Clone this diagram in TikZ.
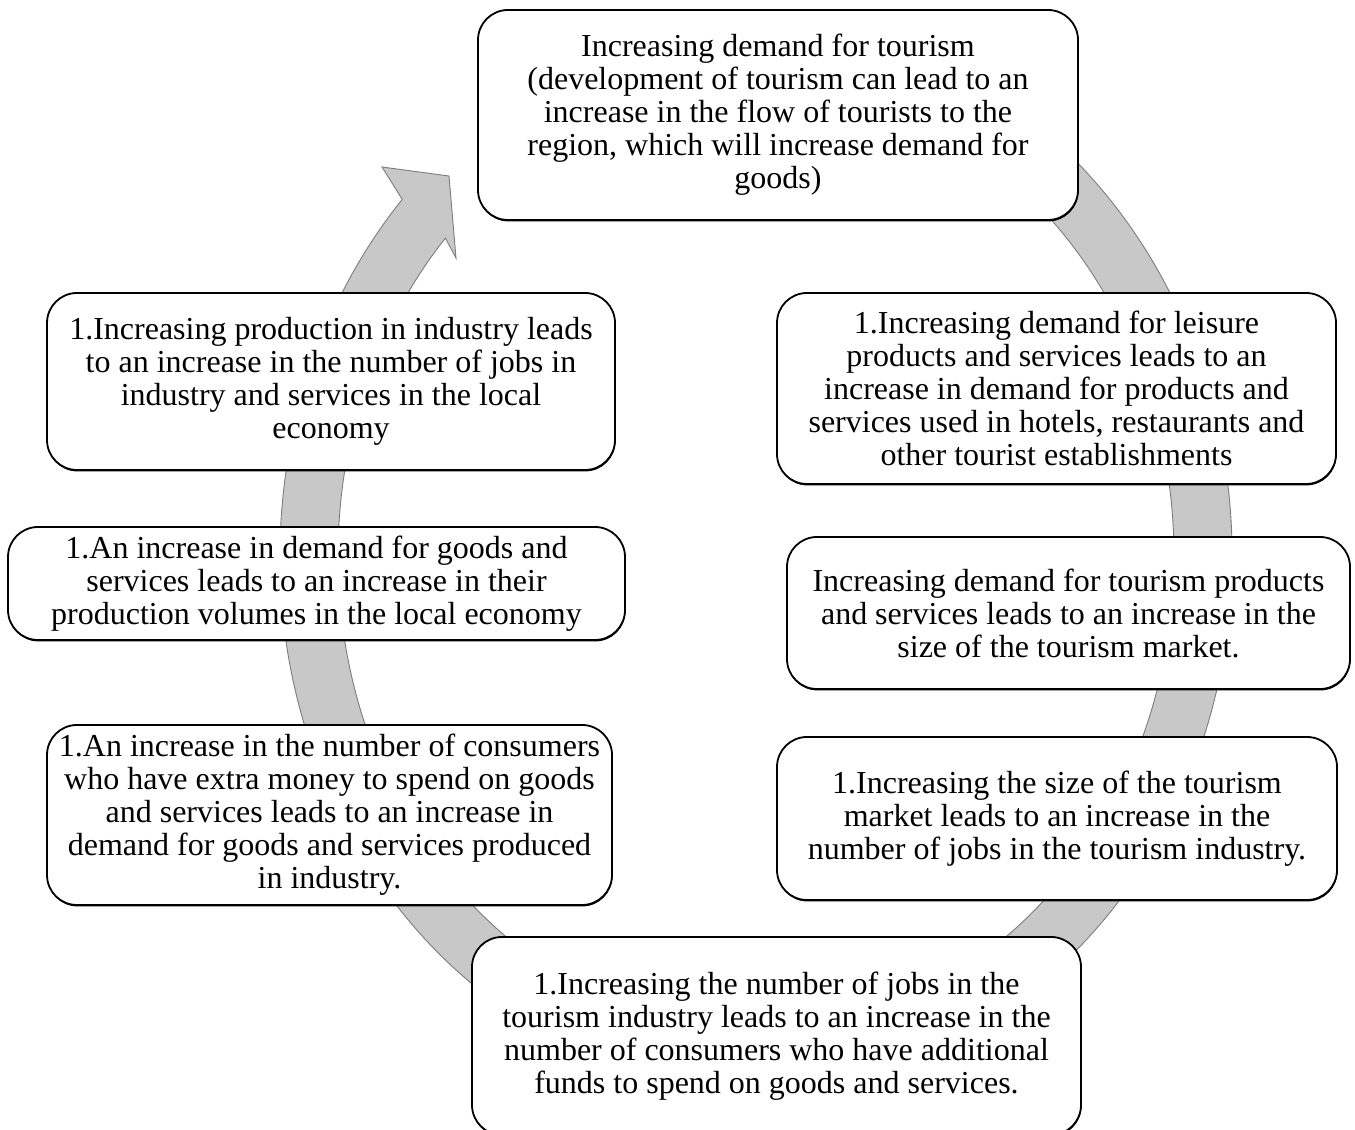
\documentclass[tikz,border=0pt]{standalone}
\usepackage{fontspec}
\setmainfont{Liberation Serif}
\usetikzlibrary{calc,shadows}

\begin{document}
\begin{tikzpicture}[x=1pt,y=1pt,
  stepbox/.style={draw=black, line width=1.8pt, fill=white, rounded corners=30pt,
    align=center, inner sep=0pt,
    font=\fontsize{32}{33}\selectfont,
    drop shadow={shadow xshift=0.4pt, shadow yshift=-1.4pt, fill=black, opacity=1}},
  band/.style={fill={rgb,255:red,200;green,200;blue,200},
    draw={rgb,255:red,125;green,125;blue,125}, line width=0.9pt, line join=miter}]
\useasboundingbox (0,0) rectangle (1355,1130);
\clip (0,0) rectangle (1355,1130);

% centre of the circular arrow
\coordinate (c) at (756,574);

% circular arrow running clockwise behind the boxes
\path[band] ($(c)+(80:476 and 533)$)
  arc[start angle=80, end angle=-222, x radius=476, y radius=533]
  -- (382,963) -- (449,954) -- (456,872)
  -- ($(c)+(-222:418 and 475)$)
  arc[start angle=-222, end angle=80, x radius=418, y radius=475]
  -- cycle;

% cycle steps
\node[stepbox, minimum width=600, minimum height=210] (top) at (778,1015)
  {Increasing demand for tourism\\(development of tourism can lead to an\\increase in the flow of tourists to the\\region, which will increase demand for\\goods)};

\node[stepbox, minimum width=559, minimum height=191] (leisure) at (1056.5,741.5)
  {1.Increasing demand for leisure\\products and services leads to an\\increase in demand for products and\\services used in hotels, restaurants and\\other tourist establishments};

\node[stepbox, minimum width=563, minimum height=152] (market) at (1068.5,517)
  {Increasing demand for tourism products\\and services leads to an increase in the\\size of the tourism market.};

\node[stepbox, minimum width=560, minimum height=163] (jobs) at (1057,311.5)
  {1.Increasing the size of the tourism\\market leads to an increase in the\\number of jobs in the tourism industry.};

\node[stepbox, minimum width=609, minimum height=198] (funds) at (776.5,94)
  {1.Increasing the number of jobs in the\\tourism industry leads to an increase in the\\number of consumers who have additional\\funds to spend on goods and services.};

\node[stepbox, minimum width=565, minimum height=180] (consumers) at (329.5,315)
  {1.An increase in the number of consumers\\who have extra money to spend on goods\\and services leads to an increase in\\demand for goods and services produced\\in industry.};

\node[stepbox, minimum width=617, minimum height=113] (volumes) at (316.5,546.5)
  {1.An increase in demand for goods and\\services leads to an increase in their\\production volumes in the local economy};

\node[stepbox, minimum width=568, minimum height=177] (production) at (331,748.5)
  {1.Increasing production in industry leads\\to an increase in the number of jobs in\\industry and services in the local\\economy};
\end{tikzpicture}
\end{document}
